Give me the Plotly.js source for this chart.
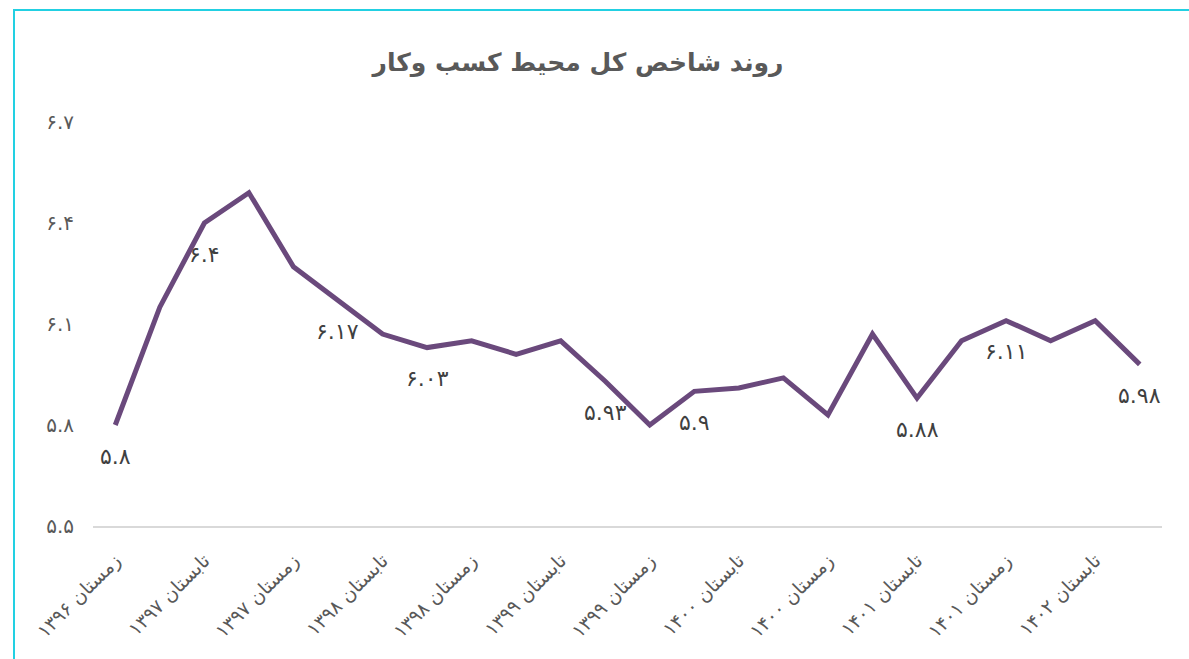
<!DOCTYPE html>
<html>
<head>
<meta charset="utf-8">
<script src="https://cdn.plot.ly/plotly-3.0.1.min.js"></script>
<style>
  html, body { margin:0; padding:0; background:#ffffff; overflow:hidden; }
  #frame { position:absolute; left:13px; top:9px; width:1300px; height:800px;
           border-left:2px solid #22d0e2; border-top:2px solid #22d0e2; }
  #chart { position:absolute; left:0; top:0; width:1189px; height:659px; }
</style>
</head>
<body>
<div id="frame"></div>
<div id="chart"></div>
<script>
const categories = [
  'زمستان ۱۳۹۶',
  'بهار ۱۳۹۷','تابستان ۱۳۹۷','پاییز ۱۳۹۷','زمستان ۱۳۹۷',
  'بهار ۱۳۹۸','تابستان ۱۳۹۸','پاییز ۱۳۹۸','زمستان ۱۳۹۸',
  'بهار ۱۳۹۹','تابستان ۱۳۹۹','پاییز ۱۳۹۹','زمستان ۱۳۹۹',
  'بهار ۱۴۰۰','تابستان ۱۴۰۰','پاییز ۱۴۰۰','زمستان ۱۴۰۰',
  'بهار ۱۴۰۱','تابستان ۱۴۰۱','پاییز ۱۴۰۱','زمستان ۱۴۰۱',
  'بهار ۱۴۰۲','تابستان ۱۴۰۲','پاییز ۱۴۰۲'
];
const values = [5.80, 6.15, 6.40, 6.49, 6.27, 6.17, 6.07, 6.03, 6.05, 6.01, 6.05, 5.93,
                5.80, 5.90, 5.91, 5.94, 5.83, 6.07, 5.88, 6.05, 6.11, 6.05, 6.11, 5.98];
const dataLabels = ['۵.۸','','۶.۴','','','۶.۱۷','','۶.۰۳','','','','۵.۹۳',
                    '','۵.۹','','','','','۵.۸۸','','۶.۱۱','','','۵.۹۸'];
const yTickVals = [5.5, 5.8, 6.1, 6.4, 6.7];
const yTickText = ['۵.۵','۵.۸','۶.۱','۶.۴','۶.۷'];
const xTickVals = categories.filter((c, i) => i % 2 === 0);

const FONT = 'DejaVu Sans, Noto Sans, sans-serif';

const annotations = [];
dataLabels.forEach((t, i) => {
  if (t) annotations.push({
    x: categories[i], y: values[i], xref: 'x', yref: 'y',
    text: t, showarrow: false, yshift: -31, yanchor: 'middle',
    font: {family: FONT, size: 22, color: '#404040'}
  });
});

const trace = {
  x: categories, y: values, type: 'scatter', mode: 'lines',
  line: {color: '#6a497c', width: 5},
  hoverinfo: 'skip'
};

const layout = {
  width: 1189, height: 659,
  margin: {l: 93, r: 27, t: 122, b: 133},
  paper_bgcolor: 'rgba(0,0,0,0)', plot_bgcolor: 'rgba(0,0,0,0)',
  showlegend: false,
  title: {
    text: '<b>روند شاخص کل محیط کسب وکار</b>',
    x: 578/1189, xref: 'container', xanchor: 'center',
    y: 1 - 62/659, yref: 'container', yanchor: 'middle',
    font: {family: FONT, size: 25, color: '#595959'}
  },
  xaxis: {
    type: 'category', range: [-0.5, 23.5],
    tickvals: xTickVals, ticktext: xTickVals,
    tickangle: -45, showgrid: false, zeroline: false,
    showline: true, linecolor: '#d9d9d9', linewidth: 2,
    ticks: '', ticklabelstandoff: 14,
    tickfont: {family: FONT, size: 19, color: '#595959'}
  },
  yaxis: {
    range: [5.5, 6.7], tickvals: yTickVals, ticktext: yTickText,
    showgrid: false, zeroline: false, showline: false, ticks: '',
    ticklabelstandoff: 18,
    tickfont: {family: FONT, size: 20, color: '#595959'}
  },
  annotations: annotations
};

Plotly.newPlot('chart', [trace], layout, {displayModeBar: false, staticPlot: true});
</script>
</body>
</html>
